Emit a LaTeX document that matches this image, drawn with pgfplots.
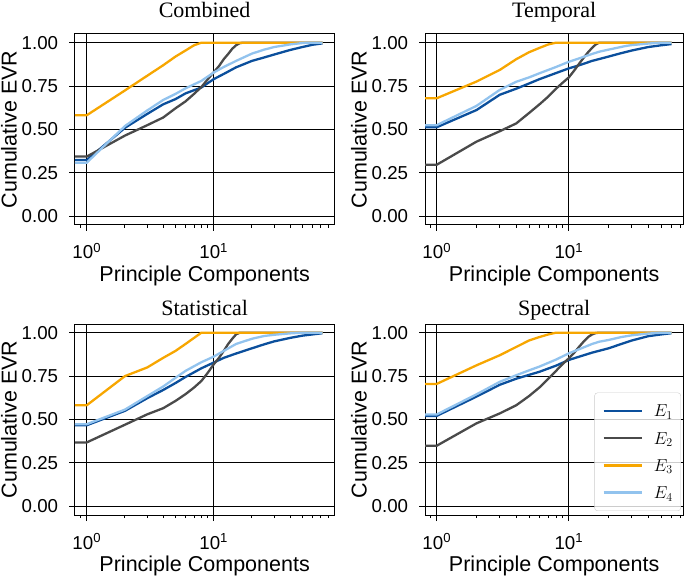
\documentclass[border=0pt]{standalone}
\usepackage{fontspec}
\setmainfont{Liberation Sans}
\newfontfamily\ttlfont{Liberation Serif}
\usepackage{pgfplots}
\pgfplotsset{compat=1.18}
\definecolor{cA}{HTML}{0B4F9C}
\definecolor{cB}{HTML}{4A4A4A}
\definecolor{cC}{HTML}{F7A600}
\definecolor{cD}{HTML}{92C3EE}
\pgfplotsset{
  evr/.style={
    scale only axis, height=191pt, anchor=south west,
    ymin=-0.05, ymax=1.05,
    xtick={1,10}, xticklabels={10\textsuperscript{0},10\textsuperscript{1}},
    minor xtick={0.9,2,3,4,5,6,7,8,9,20,30,40,50,60,70,80},
    ytick={0,0.25,0.5,0.75,1}, yticklabels={0.00,0.25,0.50,0.75,1.00},
    grid=major, major grid style={black, line width=1pt},
    axis line style={black, line width=1pt},
    tick align=outside, xtick pos=left, ytick pos=left,
    major tick length=6pt, minor tick length=3pt,
    tick style={black, line width=1pt},
    tick label style={font=\fontsize{18.7}{20}\selectfont},
    xticklabel style={anchor=base, yshift=-28pt},
    yticklabel style={anchor=east, inner sep=0pt},
    yticklabel shift=10.7pt,
    label style={font=\fontsize{21.5}{23}\selectfont},
    xlabel={Principle Components}, ylabel={Cumulative EVR},
    xlabel style={at={(axis description cs:0.5,0)}, anchor=base, yshift=-56.7pt},
    ylabel style={at={(axis description cs:0,0.5)}, anchor=base, yshift=58.3pt},
    title style={font=\ttlfont\fontsize{22}{24}\selectfont, at={(axis description cs:0.5,1)}, anchor=base},
    every axis plot/.append style={line width=2.3pt, no markers},
  },
  leftcol/.style={evr, width=259.3pt, xmin=0.808, xmax=89.1},
  rightcol/.style={evr, width=258.3pt, xmin=0.815, xmax=73.6},
}
\begin{document}
\begin{tikzpicture}
\path[use as bounding box] (0,0) rectangle (685pt,576pt);

% ---------------- Combined ----------------
\begin{semilogxaxis}[leftcol, at={(75pt,351pt)}, title={Combined}, title style={yshift=10pt}]
\addplot[cA] coordinates {(0.5,0.324)(1,0.324)(2,0.51)(3,0.59)(4,0.645)(5,0.675)(6,0.708)(8,0.742)(10,0.79)(12,0.82)(15,0.858)(20,0.895)(25,0.915)(30,0.932)(40,0.958)(50,0.975)(60,0.988)(72,0.996)};
\addplot[cB] coordinates {(0.5,0.344)(1,0.344)(2,0.465)(3,0.525)(4,0.569)(5,0.622)(6,0.662)(7,0.705)(8,0.745)(9,0.79)(10,0.83)(11,0.865)(12,0.905)(13,0.935)(14,0.965)(15,0.985)(16,0.997)(17,1)(72,1)};
\addplot[cC] coordinates {(0.5,0.582)(1,0.582)(2,0.725)(3,0.81)(4,0.87)(5,0.92)(6,0.955)(7,0.985)(8,1)(72,1)};
\addplot[cD] coordinates {(0.5,0.309)(1,0.309)(2,0.52)(3,0.61)(4,0.67)(5,0.705)(6,0.737)(8,0.78)(10,0.828)(12,0.86)(15,0.895)(20,0.937)(25,0.96)(30,0.975)(40,0.99)(50,0.998)(55,1)(72,1)};
\end{semilogxaxis}

% ---------------- Temporal ----------------
\begin{semilogxaxis}[rightcol, at={(425pt,351pt)}, title={Temporal}, title style={yshift=10pt}]
\addplot[cA] coordinates {(0.5,0.513)(1,0.513)(2,0.612)(3,0.70)(4,0.735)(5,0.765)(6,0.79)(8,0.825)(10,0.852)(12,0.87)(15,0.895)(20,0.92)(25,0.94)(30,0.955)(40,0.975)(50,0.985)(60,0.992)};
\addplot[cB] coordinates {(0.5,0.297)(1,0.297)(2,0.43)(3,0.49)(4,0.535)(5,0.595)(6,0.645)(7,0.69)(8,0.735)(9,0.77)(10,0.80)(11,0.84)(12,0.88)(13,0.915)(14,0.945)(15,0.97)(16,0.99)(17,1)(60,1)};
\addplot[cC] coordinates {(0.5,0.68)(1,0.68)(2,0.776)(3,0.843)(4,0.905)(5,0.945)(6,0.97)(7,0.99)(8,1)(60,1)};
\addplot[cD] coordinates {(0.5,0.525)(1,0.525)(2,0.636)(3,0.728)(4,0.775)(5,0.80)(6,0.824)(8,0.86)(10,0.89)(12,0.91)(15,0.935)(17,0.948)(20,0.96)(27,0.981)(30,0.986)(40,0.995)(50,1)(60,1)};
\end{semilogxaxis}

% ---------------- Statistical ----------------
\begin{semilogxaxis}[leftcol, at={(75pt,61pt)}, title={Statistical}, title style={yshift=2pt}]
\addplot[cA] coordinates {(0.5,0.467)(1,0.467)(2,0.55)(3,0.623)(4,0.67)(5,0.71)(6,0.745)(8,0.795)(10,0.828)(12,0.855)(15,0.88)(20,0.91)(25,0.933)(30,0.95)(40,0.97)(50,0.983)(60,0.99)(72,0.997)};
\addplot[cB] coordinates {(0.5,0.368)(1,0.368)(2,0.47)(3,0.53)(4,0.565)(5,0.607)(6,0.646)(7,0.684)(8,0.722)(9,0.77)(10,0.818)(11,0.855)(12,0.895)(13,0.935)(14,0.965)(15,0.99)(16,1)(72,1)};
\addplot[cC] coordinates {(0.5,0.582)(1,0.582)(2,0.75)(3,0.80)(4,0.855)(5,0.895)(6,0.935)(7,0.97)(8,1)(72,1)};
\addplot[cD] coordinates {(0.5,0.473)(1,0.473)(2,0.557)(3,0.635)(4,0.69)(5,0.74)(6,0.78)(8,0.83)(10,0.862)(12,0.895)(15,0.935)(20,0.965)(25,0.981)(30,0.988)(40,0.996)(50,1)(72,1)};
\end{semilogxaxis}

% ---------------- Spectral ----------------
\begin{semilogxaxis}[rightcol, at={(425pt,61pt)}, title={Spectral}, title style={yshift=2pt},
  legend cell align=left,
  legend style={at={(rel axis cs:0.991,0.021)}, anchor=south east,
    draw=black!20, fill=white, fill opacity=0.8, text opacity=1, draw opacity=1,
    rounded corners=3pt, font=\fontsize{17}{18}\selectfont,
    nodes={inner sep=0pt, text height=14pt, text depth=2pt},
    row sep=11.2pt, column sep=11pt, inner xsep=8pt, inner ysep=10.2pt},
  legend image code/.code={\draw[#1] (0pt,0pt) -- (38pt,0pt);}]
\addplot[cA] coordinates {(0.5,0.521)(1,0.521)(2,0.632)(3,0.70)(4,0.735)(5,0.757)(6,0.775)(8,0.81)(10,0.843)(12,0.862)(15,0.885)(20,0.91)(25,0.935)(30,0.955)(40,0.98)(50,0.99)(60,0.997)};
\addlegendentry{$E_1$}
\addplot[cB] coordinates {(0.5,0.349)(1,0.349)(2,0.478)(3,0.535)(4,0.582)(5,0.635)(6,0.685)(7,0.735)(8,0.78)(9,0.82)(10,0.852)(11,0.885)(12,0.92)(13,0.95)(14,0.975)(15,0.99)(16,0.998)(17,1)(60,1)};
\addlegendentry{$E_2$}
\addplot[cC] coordinates {(0.5,0.705)(1,0.705)(2,0.812)(3,0.87)(4,0.918)(5,0.955)(6,0.975)(7,0.99)(8,1)(60,1)};
\addlegendentry{$E_3$}
\addplot[cD] coordinates {(0.5,0.529)(1,0.529)(2,0.645)(3,0.717)(4,0.755)(5,0.783)(6,0.805)(8,0.845)(10,0.881)(12,0.905)(15,0.935)(17,0.948)(20,0.958)(25,0.975)(30,0.985)(40,0.995)(50,1)(60,1)};
\addlegendentry{$E_4$}
\end{semilogxaxis}
\end{tikzpicture}
\end{document}
